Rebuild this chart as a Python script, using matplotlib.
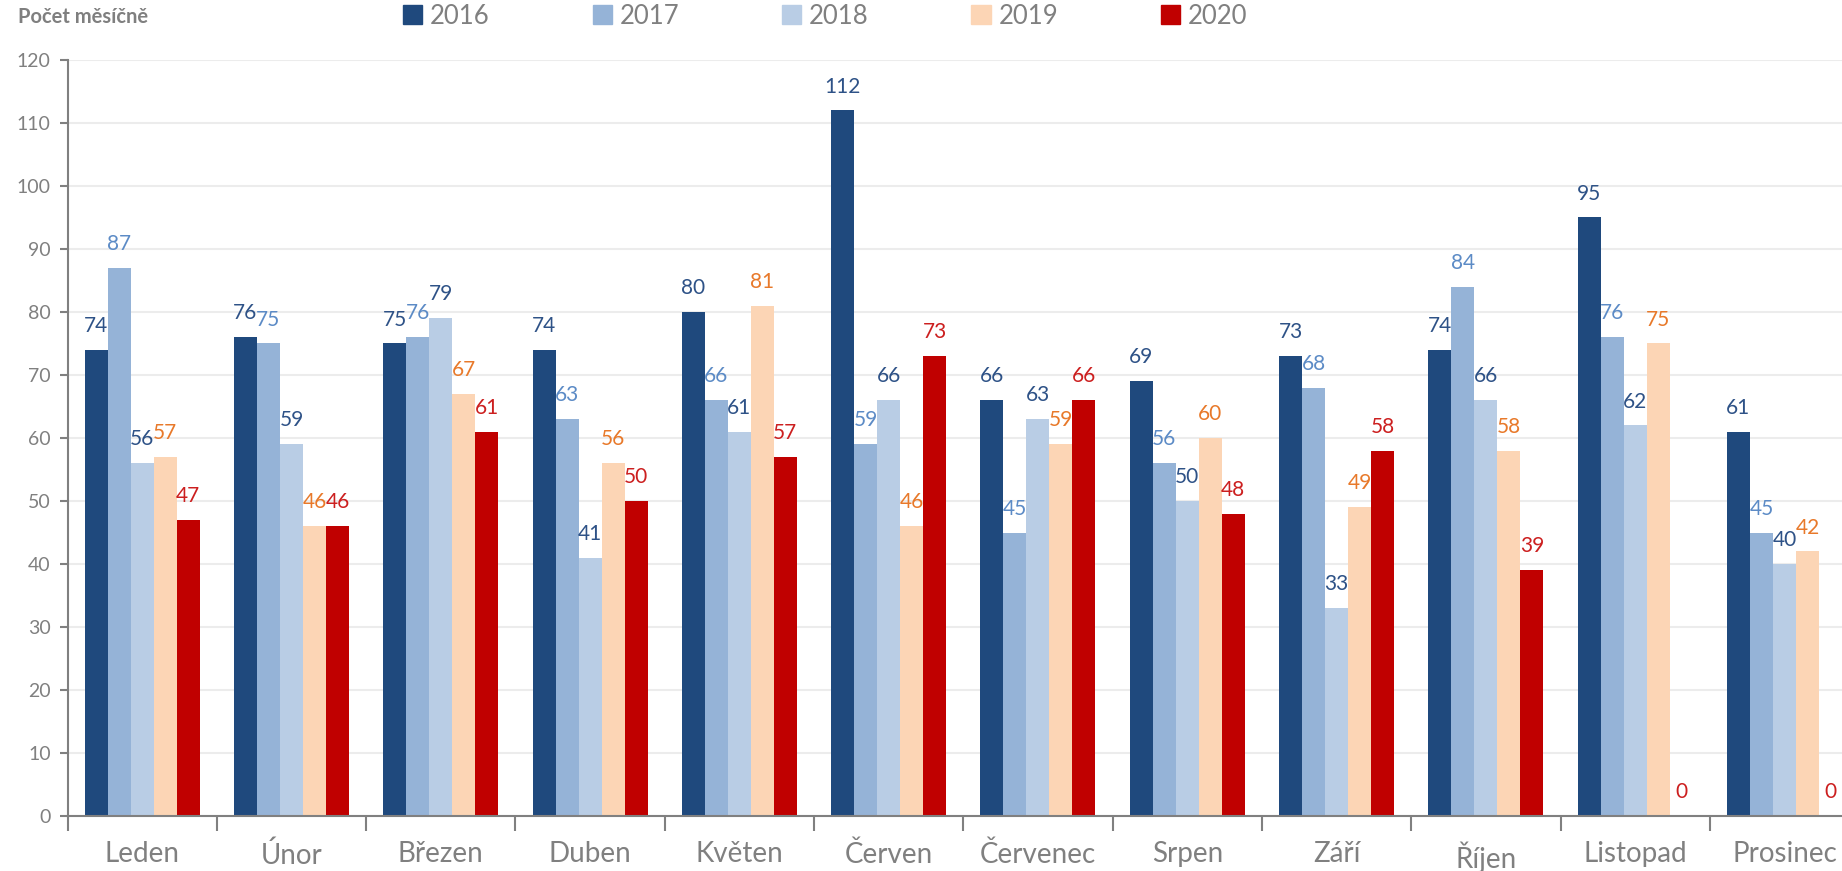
import numpy as np
import matplotlib
matplotlib.use("Agg")
import matplotlib.pyplot as plt
from matplotlib.patches import Patch

plt.rcParams['font.family'] = ['Lato', 'DejaVu Sans']

# data
months = ['Leden', 'Únor', 'Březen', 'Duben', 'Květen', 'Červen',
          'Červenec', 'Srpen', 'Září', 'Říjen', 'Listopad', 'Prosinec']
years = ['2016', '2017', '2018', '2019', '2020']
v2016 = [74, 76, 75, 74, 80, 112, 66, 69, 73, 74, 95, 61]
v2017 = [87, 75, 76, 63, 66, 59, 45, 56, 68, 84, 76, 45]
v2018 = [56, 59, 79, 41, 61, 66, 63, 50, 33, 66, 62, 40]
v2019 = [57, 46, 67, 56, 81, 46, 59, 60, 49, 58, 75, 42]
v2020 = [47, 46, 61, 50, 57, 73, 66, 48, 58, 39, 0, 0]
series = [v2016, v2017, v2018, v2019, v2020]

bar_colors = ['#1F497D', '#95B3D7', '#B9CDE5', '#FCD5B5', '#C00000']
label_colors = ['#2E5287', '#5C8BC6', '#2E5287', '#E8792A', '#CC1F1F']
gray = '#808080'

fig = plt.figure(figsize=(18.42, 8.71), dpi=100)
# plot area runs a little past the right edge (reference is cropped there)
ax = fig.add_axes([67.5 / 1842, 55 / 871, 1791.6 / 1842, 756 / 871])

x = np.arange(len(months))
w = 0.154
for i, (vals, c, lc) in enumerate(zip(series, bar_colors, label_colors)):
    pos = x + (i - 2) * w
    ax.bar(pos, vals, width=w, color=c, zorder=2, label=years[i])
    for px, v in zip(pos, vals):
        ax.annotate(str(v), (px, v), xytext=(0, 10), textcoords='offset points',
                    ha='center', va='bottom', fontsize=15, color=lc)

ax.set_xlim(-0.5, len(months) - 0.5)
ax.set_ylim(0, 120)
ax.set_yticks(range(0, 121, 10))
ax.grid(axis='y', color='#ECECEC', linewidth=1.5, zorder=0)
ax.set_axisbelow(True)

for s in ['top', 'right']:
    ax.spines[s].set_visible(False)
for s in ['left', 'bottom']:
    ax.spines[s].set_color(gray)
    ax.spines[s].set_linewidth(1.5)

ax.tick_params(axis='y', colors=gray, labelsize=14, length=6, width=1.5, pad=6)
ax.set_xticks(x)
ax.set_xticklabels(months, fontsize=20, color=gray)
ax.tick_params(axis='x', length=0, pad=18)
# category separator ticks
ax.set_xticks(np.arange(-0.5, len(months), 1), minor=True)
ax.tick_params(axis='x', which='minor', length=11, width=1.5, color=gray)

fig.text(18 / 1842, 1 - 17 / 871, 'Počet měsíčně', fontsize=14.5, fontweight='bold',
         color='#7F7F7F', ha='left', va='center')

handles = [Patch(color=c, label=y) for c, y in zip(bar_colors, years)]
leg = fig.legend(handles=handles, ncol=5, loc='center left',
                 bbox_to_anchor=(403 / 1842, 1 - 16 / 871), frameon=False,
                 fontsize=18.5, handlelength=0.75, handleheight=0.75,
                 handletextpad=0.3, columnspacing=4.0, labelcolor=gray,
                 borderpad=0, borderaxespad=0)

fig.savefig('out.png', dpi=100)
